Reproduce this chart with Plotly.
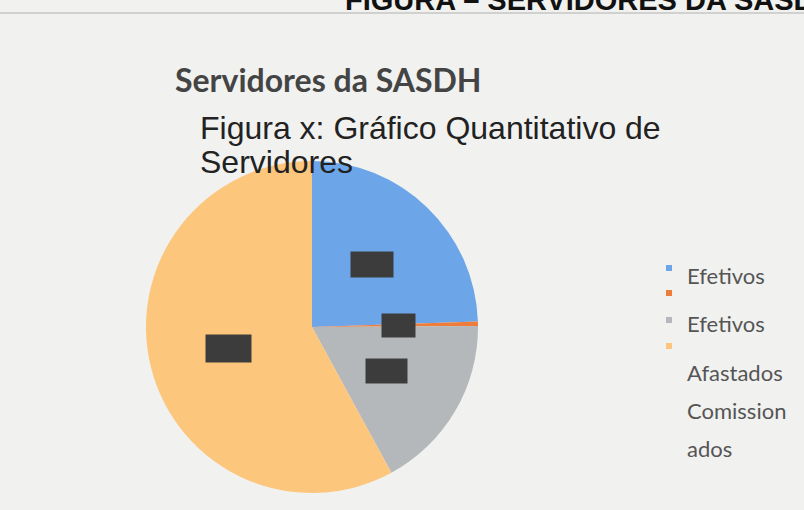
import math
import plotly.graph_objects as go

# ---- data (data labels are redacted in the source) ----
categories = ["Efetivos", "Efetivos Afastados", "Efetivos (2)", "Comissionados"]
values = [57, 1, 40, 135]
colors = ["#6CA6E8", "#EE7D3C", "#B5B8BB", "#FCC67C"]
legend_lines = ["Efetivos", "Efetivos", "Afastados", "Comission", "ados"]

W, H = 804, 510


def px(x):
    return x / W


def py(y):
    return 1 - y / H


cx, cy, R = 312, 327, 166

fig = go.Figure()
fig.add_trace(go.Pie(
    labels=categories,
    values=values,
    marker=dict(colors=colors, line=dict(width=0)),
    sort=False,
    direction="clockwise",
    rotation=0,
    textinfo="none",
    showlegend=False,
    domain=dict(x=[px(cx - R), px(cx + R)], y=[py(cy + R), py(cy - R)]),
))

annotations = []
# redacted data-label boxes, placed at the middle angle of each slice
box_w = [42, 33, 41, 45]
box_h = [25, 23, 24, 27]
total = sum(values)
cum = 0
for v, bw, bh in zip(values, box_w, box_h):
    mid = (cum + v / 2) / total * 2 * math.pi
    cum += v
    r = 0.52 * R
    bx = cx + r * math.sin(mid)
    by = cy - r * math.cos(mid)
    annotations.append(dict(
        x=px(bx), y=py(by), xref="paper", yref="paper",
        xanchor="center", yanchor="middle",
        text=" ", showarrow=False, width=bw, height=bh,
        bgcolor="#3c3c3c", font=dict(size=12, color="#3c3c3c"),
        borderpad=0,
    ))

# header (cut off at top and right, as in the source scan)
annotations.append(dict(
    x=px(343), y=py(0), xref="paper", yref="paper", xanchor="left", yanchor="middle",
    text="<b>FIGURA – SERVIDORES DA SASDH</b>", showarrow=False,
    font=dict(family="Liberation Sans", size=29, color="#111111"),
))
# main title
annotations.append(dict(
    x=px(173), y=py(79), xref="paper", yref="paper", xanchor="left", yanchor="middle",
    text="<b>Servidores da SASDH</b>", showarrow=False,
    font=dict(family="Lato", size=32, color="#444444"),
))
# subtitle (two lines)
annotations.append(dict(
    x=px(198), y=py(128), xref="paper", yref="paper", xanchor="left", yanchor="middle",
    text="Figura x: Gráfico Quantitativo de", showarrow=False,
    font=dict(family="Liberation Sans", size=32, color="#222222"),
))
annotations.append(dict(
    x=px(198), y=py(162), xref="paper", yref="paper", xanchor="left", yanchor="middle",
    text="Servidores", showarrow=False,
    font=dict(family="Liberation Sans", size=32, color="#222222"),
))

# legend text lines (as in the source, wrapped)
legend_y = [275, 323, 372, 410, 448]
for t, yy in zip(legend_lines, legend_y):
    annotations.append(dict(
        x=px(685), y=py(yy), xref="paper", yref="paper", xanchor="left", yanchor="middle",
        text=t, showarrow=False,
        font=dict(family="Lato", size=22, color="#555555"),
    ))

shapes = [dict(type="line", xref="paper", yref="paper", x0=0, x1=1, y0=py(13), y1=py(13),
               line=dict(color="#b0b0b0", width=1))]
marker_y = [268, 293, 320, 346]
for c, yy in zip(colors, marker_y):
    shapes.append(dict(type="rect", xref="paper", yref="paper",
                       x0=px(666), x1=px(672), y0=py(yy + 3), y1=py(yy - 3),
                       fillcolor=c, line=dict(width=0)))

fig.update_layout(
    width=W, height=H,
    margin=dict(l=0, r=0, t=0, b=0),
    paper_bgcolor="#f1f1f0",
    plot_bgcolor="#f1f1f0",
    annotations=annotations,
    shapes=shapes,
)

fig.write_html(
    "out.html",
    config={"displayModeBar": False},
    post_script="document.body.style.margin='0';document.body.style.padding='0';"
                "document.body.style.overflow='hidden';",
)
